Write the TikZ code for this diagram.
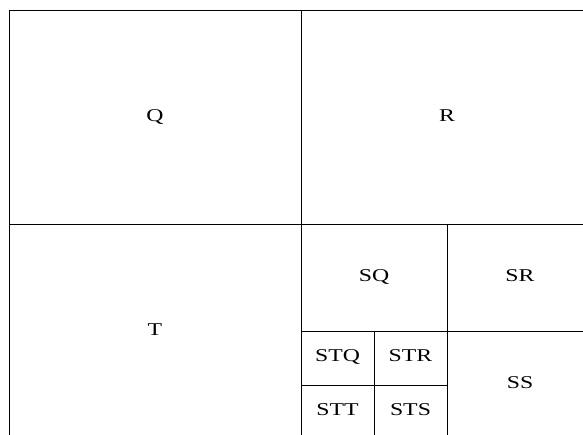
\documentclass[tikz,border=0pt]{standalone}
\usepackage{fontspec}
\setmainfont{Liberation Serif}
\tikzset{
	cell/.style={draw=black, line width=1pt},
	lbl/.style={font=\fontsize{18}{20}\selectfont, xscale=1.32, transform shape, inner sep=0pt, text height=0.66em, text depth=0pt},
}
\begin{document}
\begin{tikzpicture}[x=1pt, y=-1pt]
	\useasboundingbox (0,0) rectangle (583,434);
	\clip (0,0) rectangle (583,434);
	% quadrants
	\draw[cell] (9,10) rectangle (301,224);
	\draw[cell] (301,10) rectangle (593,224);
	\draw[cell] (9,224) rectangle (301,438);
	% S split
	\draw[cell] (301,224) rectangle (447,331);
	\draw[cell] (447,224) rectangle (593,331);
	\draw[cell] (447,331) rectangle (593,438);
	% ST split
	\draw[cell] (301,331) rectangle (374,385);
	\draw[cell] (374,331) rectangle (447,385);
	\draw[cell] (301,385) rectangle (374,438);
	\draw[cell] (374,385) rectangle (447,438);
	% labels
	\node[lbl] (q) at (155,118) {Q};
	\node[lbl] (r) at (447,118) {R};
	\node[lbl] (t) at (155,332) {T};
	\node[lbl] (sq) at (374,278) {SQ};
	\node[lbl] (sr) at (520,278) {SR};
	\node[lbl] (ss) at (520,385) {SS};
	\node[lbl] (stq) at (337.5,358.5) {STQ};
	\node[lbl] (str) at (410.5,358.5) {STR};
	\node[lbl] (stt) at (337.5,412) {STT};
	\node[lbl] (sts) at (410.5,412) {STS};
\end{tikzpicture}
\end{document}
